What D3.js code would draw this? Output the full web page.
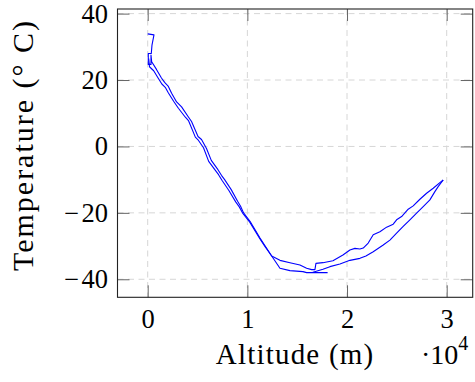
<!DOCTYPE html>
<html>
<head>
<meta charset="utf-8">
<script src="https://cdn.jsdelivr.net/npm/d3@7"></script>
<style>
  html, body { margin: 0; padding: 0; background: #fff; }
  svg { display: block; }
  text { font-family: "Liberation Serif", serif; fill: #000; }
</style>
</head>
<body>
<svg id="chart" width="475" height="382"></svg>
<script>
// ---------- data (altitude in m, temperature in °C) ----------
const ascentAlt = [0, 630, 430, 360, 60, 60, 330, 330, 400, 880, 1380, 1700, 2050, 2400, 2900, 3400, 4050, 4400, 5050, 5400, 5900, 6380, 7050, 7400, 7720, 8380, 9020, 9320, 9620, 10280, 11270, 11770, 12440, 13270, 14270, 15577, 15950, 18010, 16580, 17583, 18285, 19288, 20291, 21294, 21896, 22628, 23631, 24303, 24975, 25637, 26309, 26981, 27643, 28315, 28816, 29147, 29649];
const ascentTemp = [33.9, 33.6, 30.5, 28.0, 28.0, 24.7, 24.7, 27.5, 25.5, 23.2, 20.6, 19.3, 18.2, 16.0, 13.4, 11.9, 9.0, 7.5, 3.0, 2.1, -0.6, -4.2, -7.0, -8.7, -10.0, -13.0, -16.5, -18.0, -20.0, -22.6, -27.6, -29.9, -33.0, -36.7, -37.4, -37.7, -38.0, -38.0, -37.9, -37.0, -36.2, -35.4, -34.3, -33.7, -33.0, -31.7, -29.7, -28.2, -26.1, -24.1, -22.1, -20.1, -18.1, -16.1, -13.6, -12.1, -10.1];

const descentAlt = [29649, 29318, 28646, 27984, 27312, 26640, 26138, 25477, 24975, 24634, 23972, 23300, 22628, 22126, 21625, 21294, 20792, 20291, 19589, 18586, 17583, 16881, 16780, 16449, 15948, 15276, 14273, 13270, 12440, 11760, 11250, 10240, 9550, 9190, 8830, 8130, 7450, 7110, 6790, 6120, 5600, 5100, 4780, 4090, 3780, 3080, 2600, 2080, 1760, 1420, 1090, 600, 180, 100];
const descentTemp = [-10.1, -10.9, -12.6, -14.1, -15.9, -17.9, -18.9, -21.1, -22.1, -23.4, -24.3, -25.7, -26.6, -29.1, -30.6, -30.9, -30.7, -31.2, -32.7, -34.4, -35.0, -35.2, -37.1, -37.1, -36.7, -35.7, -35.0, -34.3, -33.0, -30.1, -27.8, -22.8, -20.2, -18.2, -16.7, -13.2, -10.2, -8.5, -7.2, -4.5, -0.4, 1.8, 2.8, 7.8, 8.8, 11.5, 13.6, 16.1, 17.8, 18.8, 20.4, 22.8, 24.0, 26.5];

const xTicks = [0, 10000, 20000, 30000];
const xTickLabels = ["0", "1", "2", "3"];
const yTicks = [-40, -20, 0, 20, 40];
const yTickLabels = ["\u2212\u200A40", "\u2212\u200A20", "0", "20", "40"];
const xLabel = "Altitude (m)";
const yLabel = "Temperature (\u00B0 C)";

// ---------- layout ----------
const L = 117.5, R = 472.7, T = 9, B = 297.3;
const svg = d3.select("#chart");
const FONT = '"Liberation Serif", serif';

const x = d3.scaleLinear().domain([-3030, 32610]).range([L, R]);
const y = d3.scaleLinear().domain([-45.43, 41.39]).range([B, T]);

// grid
const grid = svg.append("g");
grid.selectAll("line.gx").data(xTicks).join("line")
  .attr("x1", d => x(d)).attr("x2", d => x(d))
  .attr("y1", T).attr("y2", B)
  .attr("stroke", "#d6d6d6").attr("stroke-width", 1)
  .attr("stroke-dasharray", "6,4.5");
grid.selectAll("line.gy").data(yTicks).join("line")
  .attr("x1", L).attr("x2", R)
  .attr("y1", d => y(d)).attr("y2", d => y(d))
  .attr("stroke", "#d6d6d6").attr("stroke-width", 1)
  .attr("stroke-dasharray", "6,4.5");

// data lines
const line = d3.line().x(d => x(d[0])).y(d => y(d[1]));
const ascent = ascentAlt.map((a, i) => [a, ascentTemp[i]]);
const descent = descentAlt.map((a, i) => [a, descentTemp[i]]);
[ascent, descent].forEach(s => {
  svg.append("path").datum(s)
    .attr("d", line)
    .attr("fill", "none")
    .attr("stroke", "#0000ff")
    .attr("stroke-width", 1.1)
    .attr("stroke-linejoin", "round");
});

// axes (inward ticks)
const tickColor = "#666";
const gB = svg.append("g").attr("transform", `translate(0,${B})`)
  .call(d3.axisBottom(x).tickValues(xTicks).tickSize(-12).tickPadding(12)
    .tickFormat((d, i) => xTickLabels[i]));
const gT = svg.append("g").attr("transform", `translate(0,${T})`)
  .call(d3.axisTop(x).tickValues(xTicks).tickSize(-12).tickFormat(""));
const gL = svg.append("g").attr("transform", `translate(${L},0)`)
  .call(d3.axisLeft(y).tickValues(yTicks).tickSize(-12).tickPadding(9.5)
    .tickFormat((d, i) => yTickLabels[i]));
const gR = svg.append("g").attr("transform", `translate(${R},0)`)
  .call(d3.axisRight(y).tickValues(yTicks).tickSize(-12).tickFormat(""));
[gB, gT, gL, gR].forEach(g => {
  g.attr("font-family", FONT);
  g.select(".domain").remove();
  g.selectAll(".tick line").attr("stroke", tickColor).attr("stroke-width", 1);
  g.selectAll("text").style("font-family", FONT)
    .style("font-size", "26.5px").attr("fill", "#000");
});

// frame
svg.append("rect").attr("x", L).attr("y", T)
  .attr("width", R - L).attr("height", B - T)
  .attr("fill", "none").attr("stroke", "#222").attr("stroke-width", 1.1);

// axis labels
svg.append("text").attr("x", (L + R) / 2).attr("y", 364)
  .attr("text-anchor", "middle")
  .style("font-family", FONT)
  .style("font-size", "29px").style("letter-spacing", "1.2px")
  .text(xLabel);

const exp = svg.append("text").attr("x", 421).attr("y", 364)
  .style("font-family", FONT)
  .style("font-size", "28px");
exp.append("tspan").text("\u00B710");
exp.append("tspan").attr("dy", -14).style("font-size", "20px").text("4");

svg.append("text")
  .attr("transform", `translate(33,145) rotate(-90)`)
  .attr("text-anchor", "middle")
  .style("font-family", FONT)
  .style("font-size", "30px").style("letter-spacing", "2px")
  .text(yLabel);
</script>
</body>
</html>
